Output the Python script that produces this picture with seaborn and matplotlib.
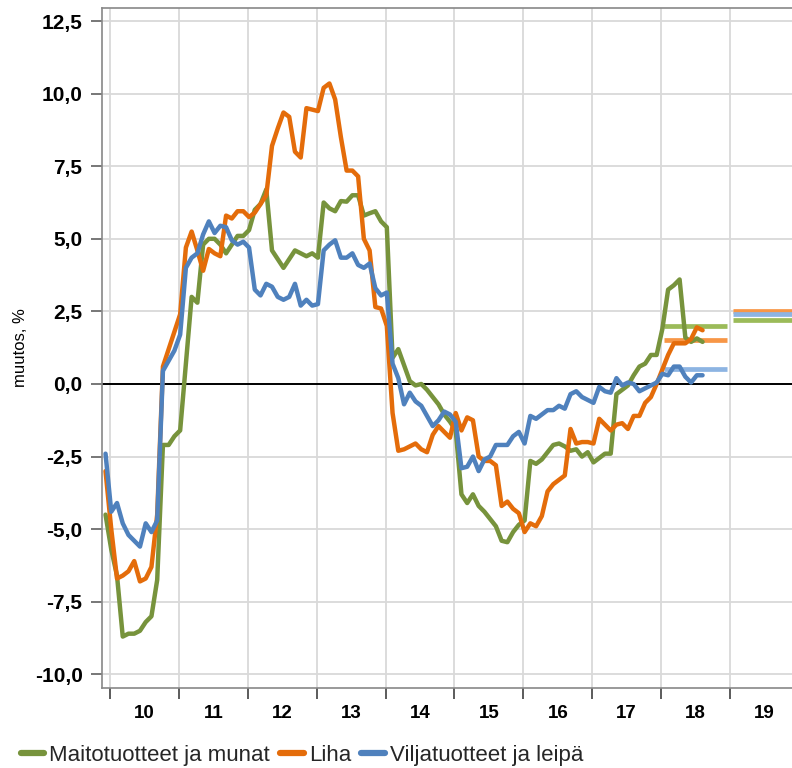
import numpy as np
import pandas as pd
import matplotlib.pyplot as plt
import seaborn as sns
from matplotlib.lines import Line2D

# monthly series, first observation just before the 2010 tick
start = 2009.935

maito = [-4.5, -5.7, -6.6, -8.7, -8.6, -8.6, -8.5, -8.2, -8.0, -6.75,
         -2.1, -2.1, -1.8, -1.6, 0.7, 3.0, 2.8, 4.8, 5.0, 5.0,
         4.8, 4.5, 4.8, 5.1, 5.1, 5.3, 6.0, 6.2, 6.7, 4.6,
         4.3, 4.0, 4.3, 4.6, 4.5, 4.4, 4.5, 4.35, 6.25, 6.05,
         5.95, 6.3, 6.28, 6.5, 6.5, 5.8, 5.88, 5.95, 5.6, 5.4,
         0.9, 1.2, 0.65, 0.1, -0.05, 0.0, -0.2, -0.45, -0.7, -1.05,
         -1.3, -1.6, -3.8, -4.1, -3.8, -4.2, -4.4, -4.65, -4.9, -5.4,
         -5.45, -5.1, -4.85, -4.7, -2.65, -2.75, -2.6, -2.35, -2.1, -2.05,
         -2.15, -2.3, -2.25, -2.5, -2.35, -2.7, -2.55, -2.4, -2.4, -0.35,
         -0.2, -0.05, 0.3, 0.6, 0.7, 1.0, 1.0, 1.9, 3.25, 3.4,
         3.6, 1.6, 1.45, 1.57, 1.45]

liha = [-3.0, -5.0, -6.7, -6.6, -6.45, -6.1, -6.8, -6.7, -6.3, -4.5,
        0.6, 1.2, 1.8, 2.4, 4.7, 5.25, 4.6, 3.9, 4.65, 4.5,
        4.4, 5.8, 5.7, 5.95, 5.95, 5.75, 5.9, 6.2, 6.5, 8.2,
        8.8, 9.35, 9.2, 8.0, 7.8, 9.5, 9.45, 9.4, 10.2, 10.35,
        9.8, 8.5, 7.35, 7.35, 7.15, 5.0, 4.6, 2.65, 2.6, 2.0,
        -1.0, -2.3, -2.25, -2.15, -2.05, -2.25, -2.35, -1.75, -1.45, -1.65,
        -1.85, -1.0, -1.6, -1.15, -1.25, -2.5, -2.65, -2.65, -2.8, -4.2,
        -4.05, -4.3, -4.45, -5.1, -4.8, -4.9, -4.55, -3.7, -3.45, -3.3,
        -3.15, -1.55, -2.05, -2.0, -2.0, -2.05, -1.2, -1.4, -1.6, -1.4,
        -1.35, -1.55, -1.1, -1.1, -0.65, -0.45, 0.0, 0.5, 1.0, 1.4,
        1.4, 1.4, 1.55, 1.95, 1.85]

vilja = [-2.4, -4.4, -4.1, -4.8, -5.2, -5.4, -5.6, -4.8, -5.1, -4.7,
         0.45, 0.8, 1.15, 1.7, 4.0, 4.35, 4.5, 5.15, 5.6, 5.2,
         5.45, 5.4, 4.95, 4.8, 4.9, 4.7, 3.25, 3.05, 3.45, 3.35,
         3.0, 2.9, 3.0, 3.45, 2.7, 2.9, 2.7, 2.75, 4.6, 4.8,
         4.95, 4.35, 4.35, 4.5, 4.1, 4.0, 4.15, 3.3, 3.05, 3.15,
         0.7, 0.2, -0.7, -0.3, -0.6, -0.75, -1.1, -1.45, -1.25, -0.95,
         -1.05, -1.3, -2.9, -2.85, -2.5, -3.0, -2.6, -2.5, -2.1, -2.1,
         -2.1, -1.8, -1.65, -2.05, -1.1, -1.2, -1.05, -0.9, -0.9, -0.75,
         -0.85, -0.35, -0.25, -0.45, -0.55, -0.65, -0.1, -0.25, -0.3, 0.2,
         -0.05, 0.05, 0.0, -0.25, -0.15, -0.05, 0.05, 0.35, 0.3, 0.6,
         0.6, 0.25, 0.05, 0.3, 0.3]

# forecasts for 2018 and 2019
fc_years = [2018, 2019]
maito_fc = [2.0, 2.2]
liha_fc = [1.5, 2.5]
vilja_fc = [0.5, 2.4]

names = ['Maitotuotteet ja munat', 'Liha', 'Viljatuotteet ja leipä']
colors = ['#77933C', '#E46C0A', '#4F81BD']
light = ['#9BBB59', '#F79646', '#8DB4E2']
year_labels = ['10', '11', '12', '13', '14', '15', '16', '17', '18', '19']

t = start + np.arange(len(maito)) / 12
df = pd.DataFrame({'t': t, names[0]: maito, names[1]: liha, names[2]: vilja})
df = df.melt(id_vars='t', var_name='sarja', value_name='muutos')

sns.set_theme(style='white')
plt.rcParams['font.family'] = ['Liberation Sans', 'DejaVu Sans']

fig = plt.figure(figsize=(7.92, 7.68), dpi=100)
ax = fig.add_axes([0.1288, 0.1042, 0.8712, 0.8854])

ax.axhline(0, color='black', lw=1.4, zorder=1.5)
sns.lineplot(data=df, x='t', y='muutos', hue='sarja', palette=colors,
             linewidth=3.2, legend=False, ax=ax, zorder=3)

for fc, c in zip([maito_fc, liha_fc, vilja_fc], light):
    for yr, v in zip(fc_years, fc):
        ax.plot([yr + 0.04, yr + 0.95], [v, v], color=c, lw=3.4,
                solid_capstyle='butt', zorder=2.5)

ax.set_xlim(2009.884, 2019.9)
ax.set_ylim(-10.47, 12.95)

yt = np.arange(-10, 12.6, 2.5)
ax.set_yticks(yt)
ax.set_yticklabels([f'{v:.1f}'.replace('.', ',') for v in yt],
                   fontsize=15, fontweight='bold')
ax.set_xticks(np.arange(2010, 2020))
ax.set_xticklabels([])
ax.set_xticks(np.arange(2010, 2020) + 0.5, minor=True)
ax.set_xticklabels(year_labels, minor=True, fontsize=13.5, fontweight='bold')

ax.grid(True, which='major', color='#D9D9D9', lw=1.3, zorder=0)
ax.tick_params(axis='y', which='major', direction='out', length=8, width=1.2,
               color='#606060', pad=6, left=True, labelcolor='black')
ax.tick_params(axis='x', which='major', direction='out', length=8, width=1.2,
               color='#404040', bottom=True)
ax.tick_params(axis='x', which='minor', length=0, pad=12, labelcolor='black')

for s in ['left', 'top', 'bottom']:
    ax.spines[s].set_visible(True)
    ax.spines[s].set_color('#888888')
    ax.spines[s].set_linewidth(1.2)
ax.spines['right'].set_visible(False)

ax.set_xlabel('')
ax.set_ylabel('muutos, %', fontsize=12, color='black')
ax.yaxis.set_label_coords(-0.107, 0.5)

handles = [Line2D([0], [0], color=c, lw=4.5) for c in colors]
fig.legend(handles, names, loc='center left', bbox_to_anchor=(0.026, 0.016),
           ncol=3, frameon=False, fontsize=16, handlelength=1.05,
           handletextpad=0.25, columnspacing=0.45, borderpad=0,
           borderaxespad=0)

fig.savefig('out.png', dpi=100)
